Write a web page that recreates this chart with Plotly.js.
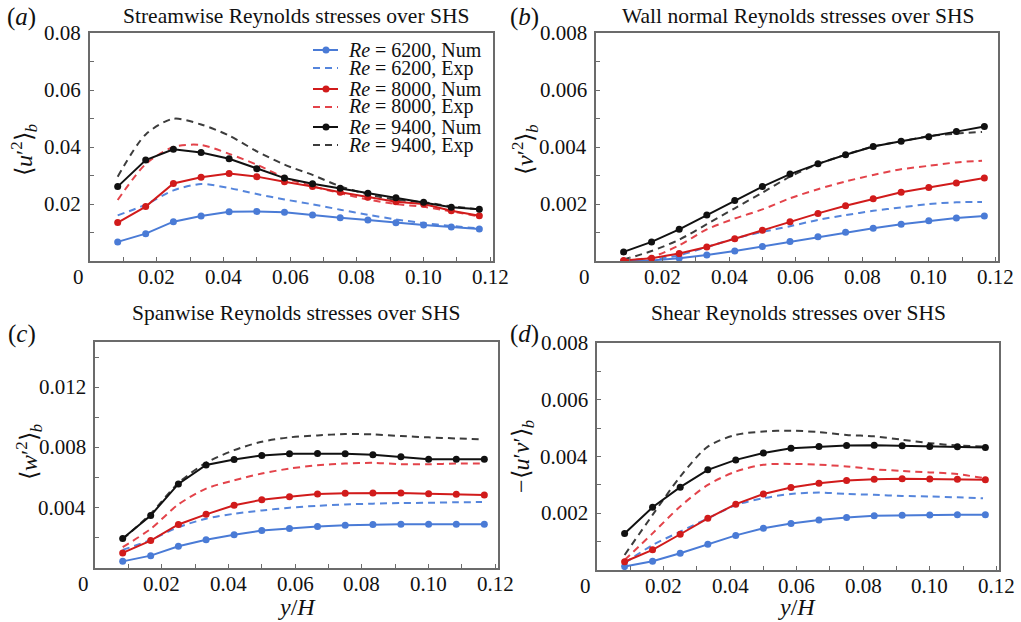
<!DOCTYPE html>
<html>
<head>
<meta charset="utf-8">
<script src="https://cdn.plot.ly/plotly-3.0.1.min.js"></script>
<style>
  html, body { margin: 0; padding: 0; background: #ffffff; }
  #chart { width: 1021px; height: 622px; }
</style>
</head>
<body>
<div id="chart"></div>
<script>
// Wall-normal sampling positions y/H
const xNum = [0.0083, 0.0167, 0.025, 0.0333, 0.0417, 0.05, 0.0583, 0.0667, 0.075, 0.0833, 0.0917, 0.1, 0.1083, 0.1167];
const xExp = [0.0083, 0.0167, 0.025, 0.0333, 0.0417, 0.05, 0.0583, 0.0667, 0.075, 0.0833, 0.0917, 0.1, 0.1083, 0.1160];

const reynolds = ['6200', '8000', '9400'];

// (a) streamwise <u'^2>_b
const aNum6200 = [0.0067, 0.0096, 0.0138, 0.0158, 0.0173, 0.0174, 0.0171, 0.0161, 0.0152, 0.0144, 0.0134, 0.0126, 0.0119, 0.0112];
const aNum8000 = [0.0135, 0.0191, 0.0272, 0.0294, 0.0307, 0.0296, 0.0278, 0.0261, 0.0241, 0.0224, 0.0208, 0.0200, 0.0176, 0.0159];
const aNum9400 = [0.0261, 0.0354, 0.0392, 0.0381, 0.0359, 0.0324, 0.0291, 0.0271, 0.0255, 0.0238, 0.0222, 0.0206, 0.0189, 0.0182];
const aExp6200 = [0.0160, 0.0198, 0.0248, 0.0270, 0.0256, 0.0235, 0.0216, 0.0199, 0.0180, 0.0162, 0.0146, 0.0133, 0.0123, 0.0115];
const aExp8000 = [0.0214, 0.0340, 0.0400, 0.0407, 0.0376, 0.0338, 0.0293, 0.0262, 0.0238, 0.0216, 0.0200, 0.0190, 0.0174, 0.0158];
const aExp9400 = [0.0296, 0.0444, 0.0499, 0.0479, 0.0440, 0.0385, 0.0338, 0.0302, 0.0262, 0.0234, 0.0215, 0.0206, 0.0192, 0.0182];

// (b) wall-normal <v'^2>_b
const bNum6200 = [0.00000, 0.00002, 0.00010, 0.00021, 0.00035, 0.00051, 0.00068, 0.00085, 0.00101, 0.00115, 0.00129, 0.00141, 0.00151, 0.00158];
const bNum8000 = [0.00002, 0.00010, 0.00026, 0.00049, 0.00078, 0.00108, 0.00138, 0.00167, 0.00194, 0.00218, 0.00241, 0.00258, 0.00274, 0.00291];
const bNum9400 = [0.00032, 0.00067, 0.00111, 0.00161, 0.00212, 0.00261, 0.00305, 0.00341, 0.00373, 0.00402, 0.00420, 0.00436, 0.00454, 0.00472];
const bExp6200 = [0.00000, 0.00005, 0.00020, 0.00049, 0.00079, 0.00102, 0.00122, 0.00144, 0.00161, 0.00176, 0.00188, 0.00200, 0.00206, 0.00207];
const bExp8000 = [0.00000, 0.00014, 0.00055, 0.00111, 0.00149, 0.00181, 0.00220, 0.00252, 0.00279, 0.00302, 0.00322, 0.00334, 0.00346, 0.00352];
const bExp9400 = [0.00005, 0.00035, 0.00075, 0.00129, 0.00185, 0.00240, 0.00296, 0.00340, 0.00373, 0.00402, 0.00420, 0.00438, 0.00447, 0.00453];

// (c) spanwise <w'^2>_b
const cNum6200 = [0.00044, 0.00082, 0.00144, 0.00187, 0.00220, 0.00249, 0.00262, 0.00276, 0.00284, 0.00289, 0.00291, 0.00291, 0.00291, 0.00291];
const cNum8000 = [0.00100, 0.00182, 0.00289, 0.00356, 0.00416, 0.00453, 0.00473, 0.00491, 0.00496, 0.00498, 0.00498, 0.00493, 0.00489, 0.00484];
const cNum9400 = [0.00196, 0.00349, 0.00558, 0.00684, 0.00720, 0.00747, 0.00758, 0.00760, 0.00758, 0.00751, 0.00738, 0.00722, 0.00722, 0.00722];
const cExp6200 = [0.00120, 0.00187, 0.00271, 0.00327, 0.00360, 0.00382, 0.00400, 0.00413, 0.00422, 0.00427, 0.00431, 0.00433, 0.00436, 0.00438];
const cExp8000 = [0.00138, 0.00260, 0.00422, 0.00527, 0.00582, 0.00627, 0.00660, 0.00682, 0.00693, 0.00698, 0.00689, 0.00689, 0.00693, 0.00693];
const cExp9400 = [0.00190, 0.00360, 0.00564, 0.00698, 0.00782, 0.00838, 0.00867, 0.00880, 0.00889, 0.00887, 0.00876, 0.00867, 0.00860, 0.00853];

// (d) shear -<u'v'>_b
const dNum6200 = [0.00012, 0.00031, 0.00059, 0.00091, 0.00122, 0.00147, 0.00164, 0.00176, 0.00185, 0.00191, 0.00193, 0.00194, 0.00195, 0.00195];
const dNum8000 = [0.00029, 0.00071, 0.00126, 0.00182, 0.00232, 0.00268, 0.00291, 0.00306, 0.00315, 0.00320, 0.00322, 0.00321, 0.00320, 0.00318];
const dNum9400 = [0.00129, 0.00221, 0.00292, 0.00353, 0.00388, 0.00412, 0.00429, 0.00435, 0.00439, 0.00440, 0.00438, 0.00435, 0.00434, 0.00432];
const dExp6200 = [0.00024, 0.00088, 0.00135, 0.00182, 0.00229, 0.00253, 0.00268, 0.00273, 0.00268, 0.00265, 0.00261, 0.00259, 0.00256, 0.00253];
const dExp8000 = [0.00035, 0.00129, 0.00224, 0.00300, 0.00347, 0.00371, 0.00374, 0.00371, 0.00365, 0.00355, 0.00349, 0.00344, 0.00338, 0.00324];
const dExp9400 = [0.00053, 0.00194, 0.00329, 0.00435, 0.00476, 0.00488, 0.00491, 0.00486, 0.00476, 0.00471, 0.00459, 0.00447, 0.00439, 0.00435];

// Tick labels
const xTickVals = [0, 0.02, 0.04, 0.06, 0.08, 0.10, 0.12];
const xTickText = ['0', '0.02', '0.04', '0.06', '0.08', '0.10', '0.12'];
const yTickValsA = [0.02, 0.04, 0.06, 0.08];
const yTickTextA = ['0.02', '0.04', '0.06', '0.08'];
const yTickValsB = [0.002, 0.004, 0.006, 0.008];
const yTickTextB = ['0.002', '0.004', '0.006', '0.008'];
const yTickValsC = [0.004, 0.008, 0.012];
const yTickTextC = ['0.004', '0.008', '0.012'];

const panelTitles = [
  'Streamwise Reynolds stresses over SHS',
  'Wall normal Reynolds stresses over SHS',
  'Spanwise Reynolds stresses over SHS',
  'Shear Reynolds stresses over SHS'
];
const panelLetters = ['a', 'b', 'c', 'd'];
const yTitles = [
  '⟨<i>u</i>′<sup>2</sup>⟩<sub><i>b</i></sub>',
  '⟨<i>v</i>′<sup>2</sup>⟩<sub><i>b</i></sub>',
  '⟨<i>w</i>′<sup>2</sup>⟩<sub><i>b</i></sub>',
  '−⟨<i>u</i>′<i>v</i>′⟩<sub><i>b</i></sub>'
];

// ---- styling ----
const W = 1021, H = 622;
const FONT = "'Liberation Serif', 'Times New Roman', Times, serif";
const TICK_SIZE = 21;
const numColors = ['#4a7bd6', '#d11b1b', '#111111'];
const expColors = ['#5585dc', '#e3434a', '#3c3c3c'];
const FRAME = '#6b6b6b';

const px = v => v / W;
const py = v => 1 - v / H;

// plot boxes in pixels: [left, right, top, bottom]
const boxes = [
  [90, 493, 33, 261],
  [596, 998, 33, 261],
  [95, 498, 342, 568],
  [597, 999, 343, 570]
];

const panels = [
  { num: [aNum6200, aNum8000, aNum9400], exp: [aExp6200, aExp8000, aExp9400], yr: [0, 0.08], tv: yTickValsA, tt: yTickTextA, minor: 0.01 },
  { num: [bNum6200, bNum8000, bNum9400], exp: [bExp6200, bExp8000, bExp9400], yr: [0, 0.008], tv: yTickValsB, tt: yTickTextB, minor: 0.001 },
  { num: [cNum6200, cNum8000, cNum9400], exp: [cExp6200, cExp8000, cExp9400], yr: [0, 0.015], tv: yTickValsC, tt: yTickTextC, minor: 0.002 },
  { num: [dNum6200, dNum8000, dNum9400], exp: [dExp6200, dExp8000, dExp9400], yr: [0, 0.008], tv: yTickValsB, tt: yTickTextB, minor: 0.001 }
];

const traces = [];
const layout = {
  width: W, height: H,
  margin: { l: 0, r: 0, t: 0, b: 0 },
  paper_bgcolor: '#ffffff',
  plot_bgcolor: '#ffffff',
  showlegend: false,
  font: { family: FONT, color: '#111111' },
  annotations: [],
  shapes: []
};

const tickFont = { family: FONT, size: TICK_SIZE, color: '#111111' };

panels.forEach((p, i) => {
  const n = i + 1;
  const xa = n === 1 ? 'x' : 'x' + n;
  const ya = n === 1 ? 'y' : 'y' + n;
  const [l, r, t, b] = boxes[i];

  // experimental profiles (dashed) beneath the numerical ones
  p.exp.forEach((ys, k) => {
    traces.push({
      x: xExp, y: ys, xaxis: xa, yaxis: ya, type: 'scatter', mode: 'lines',
      line: { color: expColors[k], width: 2, dash: '7px,5px', shape: 'spline', smoothing: 0.8 },
      hoverinfo: 'skip'
    });
  });
  p.num.forEach((ys, k) => {
    traces.push({
      x: xNum, y: ys, xaxis: xa, yaxis: ya, type: 'scatter', mode: 'lines+markers',
      line: { color: numColors[k], width: 2 },
      marker: { color: numColors[k], size: 7 },
      hoverinfo: 'skip'
    });
  });

  const common = {
    showline: true, mirror: true, linecolor: FRAME, linewidth: 2,
    showgrid: false, zeroline: false, showticklabels: false,
    ticks: 'inside', ticklen: 4, tickwidth: 1, tickcolor: FRAME,
    tickmode: 'array'
  };

  layout['xaxis' + (n === 1 ? '' : n)] = Object.assign({}, common, {
    domain: [px(l), px(r)], anchor: ya, range: [0, 0.1208],
    tickvals: xTickVals,
    minor: { dtick: 0.01, tick0: 0, ticks: 'inside', ticklen: 4, tickcolor: FRAME, showgrid: false }
  });
  layout['yaxis' + (n === 1 ? '' : n)] = Object.assign({}, common, {
    domain: [py(b), py(t)], anchor: xa, range: p.yr,
    tickvals: p.tv,
    minor: { dtick: p.minor, tick0: 0, ticks: 'inside', ticklen: 4, tickcolor: FRAME, showgrid: false }
  });

  // tick labels set just outside the frame
  xTickVals.forEach((v, k) => {
    const isOrigin = v === 0;
    layout.annotations.push({
      text: xTickText[k], xref: xa, yref: 'paper', x: v, y: py(b + 16),
      xshift: isOrigin ? -12 : 0,
      xanchor: 'center', yanchor: 'middle', showarrow: false, font: tickFont
    });
  });
  p.tv.forEach((v, k) => {
    layout.annotations.push({
      text: p.tt[k], xref: 'paper', yref: ya, x: px(l - 7), y: v,
      xanchor: 'right', yanchor: 'middle', showarrow: false, font: tickFont
    });
  });
});

// titles, panel letters, axis titles
const titleX = [296, 798, 296, 798];
const titleY = [16, 16, 313, 313];
const letterPos = [[21, 17], [524, 17], [22, 334], [524, 334]];
const yTitlePos = [[24, 150], [525, 150], [29, 452], [523, 457]];

panelTitles.forEach((txt, i) => {
  layout.annotations.push({
    text: txt, xref: 'paper', yref: 'paper', x: px(titleX[i]), y: py(titleY[i]),
    xanchor: 'center', yanchor: 'middle', showarrow: false,
    font: { family: FONT, size: 21.5, color: '#111111' }
  });
  layout.annotations.push({
    text: '(<i>' + panelLetters[i] + '</i>)', xref: 'paper', yref: 'paper',
    x: px(letterPos[i][0]), y: py(letterPos[i][1]),
    xanchor: 'center', yanchor: 'middle', showarrow: false,
    font: { family: FONT, size: 25, color: '#111111' }
  });
  layout.annotations.push({
    text: yTitles[i], xref: 'paper', yref: 'paper',
    x: px(yTitlePos[i][0]), y: py(yTitlePos[i][1]),
    xanchor: 'center', yanchor: 'middle', showarrow: false, textangle: -90,
    font: { family: FONT, size: 24, color: '#111111' }
  });
});

[[297, 607], [797, 607]].forEach(pos => {
  layout.annotations.push({
    text: '<i>y</i>/<i>H</i>', xref: 'paper', yref: 'paper',
    x: px(pos[0]), y: py(pos[1]), xanchor: 'center', yanchor: 'middle', showarrow: false,
    font: { family: FONT, size: 24, color: '#111111' }
  });
});

// legend inside panel (a)
const legendRows = [50, 68, 89, 107, 127, 145];
reynolds.forEach((re, k) => {
  ['Num', 'Exp'].forEach((kind, j) => {
    const yy = legendRows[k * 2 + j];
    const isNum = kind === 'Num';
    layout.shapes.push({
      type: 'line', xref: 'paper', yref: 'paper',
      x0: px(313), x1: px(338), y0: py(yy), y1: py(yy),
      line: { color: isNum ? numColors[k] : expColors[k], width: 2, dash: isNum ? 'solid' : '7px,5px' }
    });
    if (isNum) {
      layout.shapes.push({
        type: 'circle', xref: 'paper', yref: 'paper',
        x0: px(322.5), x1: px(329.5), y0: py(yy + 3.5), y1: py(yy - 3.5),
        fillcolor: numColors[k], line: { width: 0 }
      });
    }
    layout.annotations.push({
      text: '<i>Re</i> = ' + re + ', ' + kind, xref: 'paper', yref: 'paper',
      x: px(346), y: py(yy), xanchor: 'left', yanchor: 'middle', showarrow: false,
      font: { family: FONT, size: 20, color: '#111111' }
    });
  });
});

Plotly.newPlot('chart', traces, layout, { staticPlot: true, displayModeBar: false });
</script>
</body>
</html>
